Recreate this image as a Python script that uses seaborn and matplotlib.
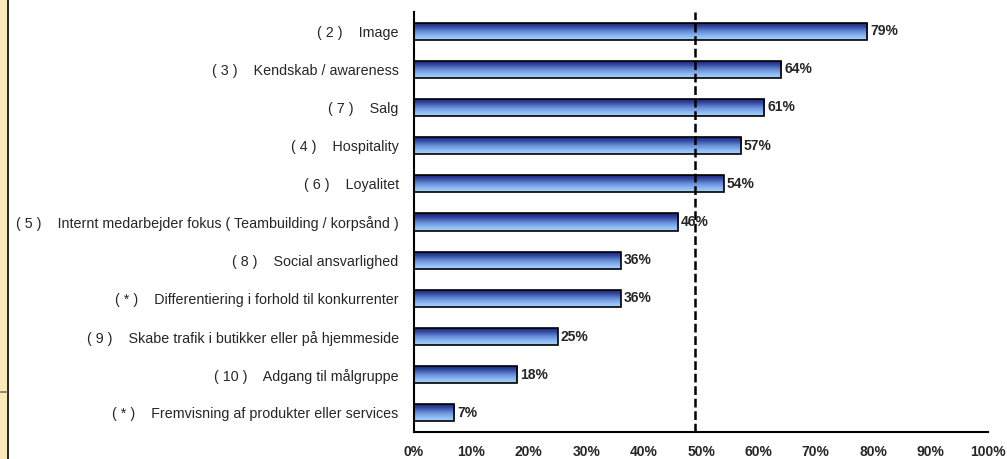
import matplotlib
matplotlib.use("Agg")
import matplotlib.pyplot as plt
import seaborn as sns
import numpy as np
import pandas as pd
from matplotlib.colors import LinearSegmentedColormap
from matplotlib.patches import Rectangle
from matplotlib.lines import Line2D

categories = [
    "( 2 )    Image",
    "( 3 )    Kendskab / awareness",
    "( 7 )    Salg",
    "( 4 )    Hospitality",
    "( 6 )    Loyalitet",
    "( 5 )    Internt medarbejder fokus ( Teambuilding / korpsånd )",
    "( 8 )    Social ansvarlighed",
    "( * )    Differentiering i forhold til konkurrenter",
    "( 9 )    Skabe trafik i butikker eller på hjemmeside",
    "( 10 )    Adgang til målgruppe",
    "( * )    Fremvisning af produkter eller services",
]
values = [79, 64, 61, 57, 54, 46, 36, 36, 25, 18, 7]
value_labels = ["79%", "64%", "61%", "57%", "54%", "46%", "36%", "36%", "25%", "18%", "7%"]
reference_line = 49
x_ticks = [0, 10, 20, 30, 40, 50, 60, 70, 80, 90, 100]
x_tick_labels = ["0%", "10%", "20%", "30%", "40%", "50%", "60%", "70%", "80%", "90%", "100%"]

sns.set_style("white")
plt.rcParams["font.family"] = ["Liberation Sans", "DejaVu Sans"]

df = pd.DataFrame({"cat": categories, "val": values})

fig = plt.figure(figsize=(10.07, 4.59), dpi=100)
ax = fig.add_axes([414 / 1007, 1 - 432 / 459, (988 - 414) / 1007, (432 - 12) / 459])

sns.barplot(data=df, x="val", y="cat", orient="h", ax=ax, width=0.45,
            color="#6a8ed6", edgecolor="black", linewidth=1.2, saturation=1)

cmap = LinearSegmentedColormap.from_list(
    "bargrad", ["#141c6a", "#33489e", "#6388d4", "#8ab4ef", "#a8d4ff"])
grad = np.linspace(0, 1, 64).reshape(-1, 1)
for p in ax.patches:
    x0, y0 = p.get_x(), p.get_y()
    w, h = p.get_width(), p.get_height()
    im = ax.imshow(grad, cmap=cmap, aspect="auto",
                   extent=[x0, x0 + w, y0 + h, y0], origin="upper", zorder=p.get_zorder())
    im.set_clip_path(p)
    p.set_facecolor("none")
    p.set_zorder(3)

ax.set_xlim(0, 100)
ax.set_ylim(len(categories) - 0.5, -0.5)
ax.axvline(reference_line, color="black", linestyle=(0, (3.5, 1.5)), linewidth=1.8, zorder=4)

for i, (v, lab) in enumerate(zip(values, value_labels)):
    ax.text(v + 0.5, i, lab, va="center", ha="left", fontsize=10, fontweight="bold", zorder=5)

ax.set_xticks(x_ticks)
ax.set_xticklabels(x_tick_labels, fontsize=10, fontweight="bold")
ax.set_yticks(range(len(categories)))
ax.set_yticklabels(categories, fontsize=10.3)
ax.tick_params(axis="y", length=0, pad=11)
ax.set_yticks(np.arange(-0.5, len(categories), 1), minor=True)
ax.tick_params(axis="y", which="minor", length=4, width=1.2, direction="out", color="black")
ax.tick_params(axis="x", length=4, width=1.2, direction="out", color="black", pad=5)
ax.set_xlabel("")
ax.set_ylabel("")
for s in ["top", "right"]:
    ax.spines[s].set_visible(False)
for s in ["left", "bottom"]:
    ax.spines[s].set_color("black")
    ax.spines[s].set_linewidth(1.5)

# left decorative strip
fig.patches.append(Rectangle((0, 0), 7 / 1007, 1, transform=fig.transFigure,
                             facecolor="#fde9b8", edgecolor="none", zorder=0))
fig.lines.append(Line2D([7.5 / 1007, 7.5 / 1007], [0, 1], transform=fig.transFigure,
                        color="black", linewidth=1.2))
fig.lines.append(Line2D([0, 7 / 1007], [1 - 392 / 459, 1 - 392 / 459], transform=fig.transFigure,
                        color="#777766", linewidth=1.2))

fig.savefig("out.png", dpi=100)
